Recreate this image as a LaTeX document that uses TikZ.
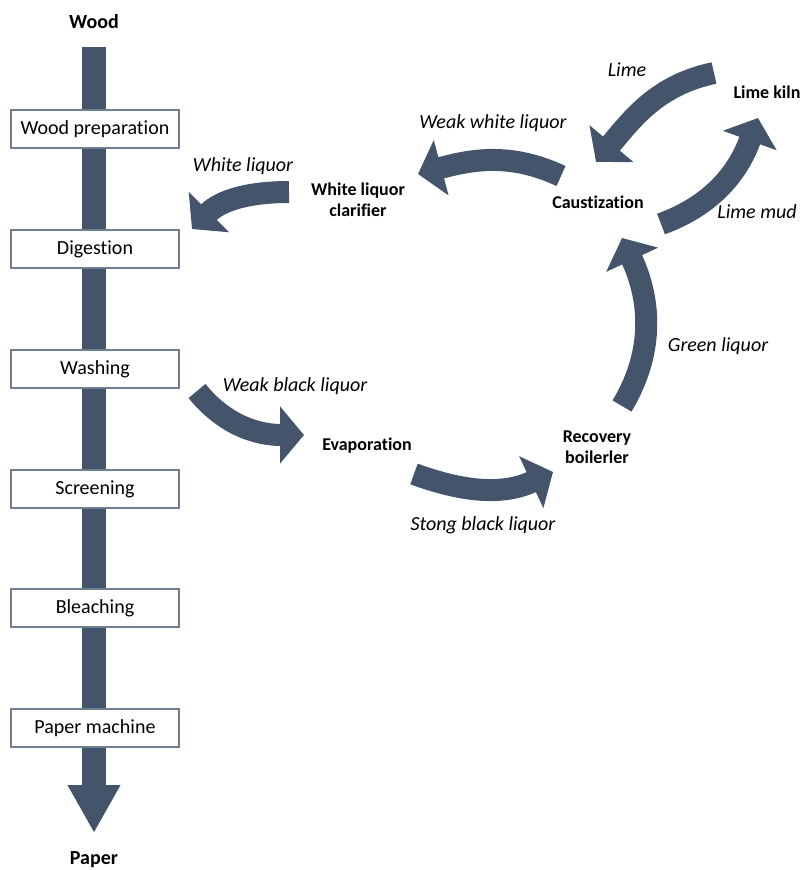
\documentclass[tikz,border=0pt]{standalone}
\usepackage{fontspec}
\setmainfont{Carlito}[Ligatures=NoCommon]
\usepackage{tikz}
\usetikzlibrary{positioning,arrows.meta}
\definecolor{flowBlue}{RGB}{68,84,106}
\definecolor{boxGray}{RGB}{112,126,146}

\begin{document}
\begin{tikzpicture}[
    x=0.75pt, y=-0.75pt,
    box/.style={rectangle, draw=boxGray, fill=white, line width=0.8pt, minimum width=126pt, minimum height=28.5pt, font=\fontsize{15}{18}\selectfont},
    stage/.style={font=\bfseries\fontsize{13.5}{16}\selectfont, align=center},
    endlabel/.style={font=\bfseries\fontsize{15}{18}\selectfont},
    flow/.style={line width=16.5pt, draw=flowBlue, -{Triangle[width=42pt,length=18pt]}},
    mainflow/.style={line width=18pt, draw=flowBlue, -{Triangle[width=37pt,length=36pt]}},
    flowlabel/.style={font=\itshape\fontsize{15}{18}\selectfont}
]
\useasboundingbox (0,0) rectangle (803,870);

% Main pulp line
\node[endlabel] (wood) at (94,22) {Wood};
\node[endlabel] (paper) at (94,860) {Paper};
\coordinate (linetop) at (94,47);
\coordinate (lineend) at (94,833);
\draw[mainflow] (linetop) -- (lineend);

\node[box] (prep) at (95,129) {Wood preparation};
\node[box] (digestion) at (95,249) {Digestion};
\node[box] (washing) at (95,369) {Washing};
\node[box] (screening) at (95,489) {Screening};
\node[box] (bleaching) at (95,608) {Bleaching};
\node[box] (papermachine) at (95,728) {Paper machine};

% Recovery cycle
\node[stage] (clarifier) at (358,200) {White liquor\\clarifier};
\node[stage] (caust) at (598,202) {Caustization};
\node[stage] (kiln) at (767,92) {Lime kiln};
\node[stage] (evap) at (367,446) {Evaporation};
\node[stage] (boiler) at (597,447) {Recovery\\boilerler};

\coordinate (wl start) at (289,192);  \coordinate (wl end) at (192,229);
\coordinate (ww start) at (561,176);  \coordinate (ww end) at (418,174);
\coordinate (li start) at (714,73);   \coordinate (li end) at (596,162);
\coordinate (lm start) at (661,224);  \coordinate (lm end) at (758,118);
\coordinate (gl start) at (622,406);  \coordinate (gl end) at (622,238);
\coordinate (wb start) at (197,391);  \coordinate (wb end) at (304,435);
\coordinate (sb start) at (414,474);  \coordinate (sb end) at (553,472);

\draw[flow] (wl start) to[out=180, in=45] (wl end);
\draw[flow] (ww start) to[out=155, in=15] (ww end);
\draw[flow] (li start) to[out=192, in=50] (li end);
\draw[flow] (lm start) to[out=20, in=250] (lm end);
\draw[flow] (gl start) to[out=59, in=-65] (gl end);
\draw[flow] (wb start) to[out=-51, in=180] (wb end);
\draw[flow] (sb start) to[out=-20, in=205] (sb end);

% Flow labels
\node[flowlabel] at (243,166) {White liquor};
\node[flowlabel] at (493,123) {Weak white liquor};
\node[flowlabel] at (627,70) {Lime};
\node[flowlabel] at (757,212) {Lime mud};
\node[flowlabel] at (718,346) {Green liquor};
\node[flowlabel] at (295,386) {Weak black liquor};
\node[flowlabel] at (483,525) {Stong black liquor};

\end{tikzpicture}
\end{document}
